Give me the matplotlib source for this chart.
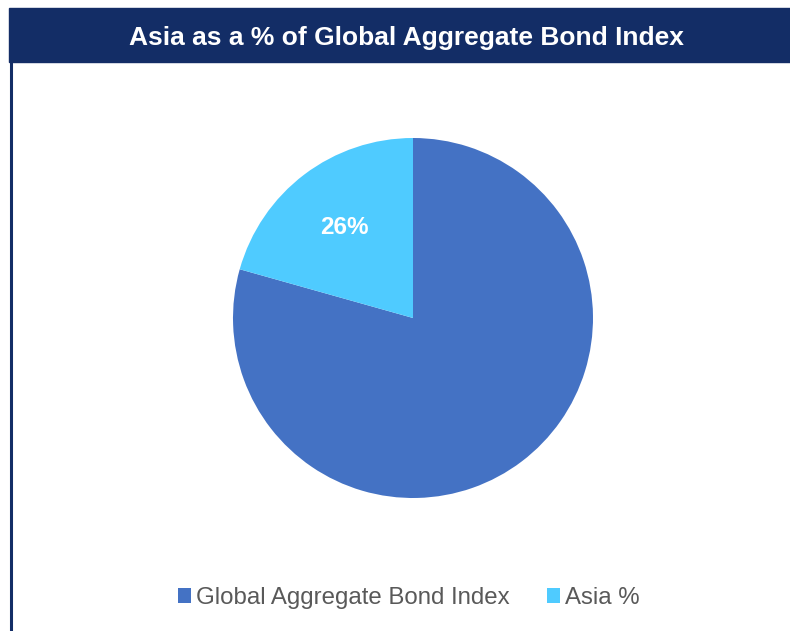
import matplotlib.pyplot as plt
from matplotlib.patches import Rectangle
from matplotlib.lines import Line2D

plt.rcParams['font.family'] = ['Liberation Sans', 'DejaVu Sans']

# data
categories = ["Global Aggregate Bond Index", "Asia %"]
values = [100, 26]
slice_labels = ["", "26%"]
colors = ["#4472C4", "#4FCBFF"]
title = "Asia as a % of Global Aggregate Bond Index"

navy = "#132D66"
W, H = 790, 631

fig = plt.figure(figsize=(W / 100, H / 100), dpi=100)

# title bar + left border
fig.patches.append(Rectangle((9 / W, 1 - 62 / H), 1, 54 / H, transform=fig.transFigure,
                             color=navy, zorder=0))
fig.lines.append(Line2D([10.5 / W, 10.5 / W], [0, 1 - 62 / H], transform=fig.transFigure,
                        color=navy, lw=2.2))
fig.text(406 / W, 1 - 37.5 / H, title, ha="center", va="center", color="white",
         fontsize=19, fontweight="bold")

# pie
cx, cy, r = 413, 318, 180
ax = fig.add_axes([(cx - r) / W, (H - cy - r) / H, 2 * r / W, 2 * r / H])
wedges, _, autotexts = ax.pie(values, colors=colors, startangle=90, counterclock=False,
                              autopct="%1.0f%%", pctdistance=0.63,
                              wedgeprops=dict(linewidth=0),
                              textprops=dict(color="white", fontsize=17.5, fontweight="bold"))
for t, lab in zip(autotexts, slice_labels):
    t.set_text(lab)
ax.set_xlim(-1, 1)
ax.set_ylim(-1, 1)
ax.set_aspect("equal")
ax.axis("off")

fig.legend(wedges, categories, loc="center", bbox_to_anchor=(408.5 / W, 1 - 598 / H),
           ncol=2, frameon=False, fontsize=17.25, labelcolor="#595959",
           handlelength=0.55, handleheight=0.55, handletextpad=0.2, columnspacing=1.55)

fig.savefig("out.png", dpi=100)
